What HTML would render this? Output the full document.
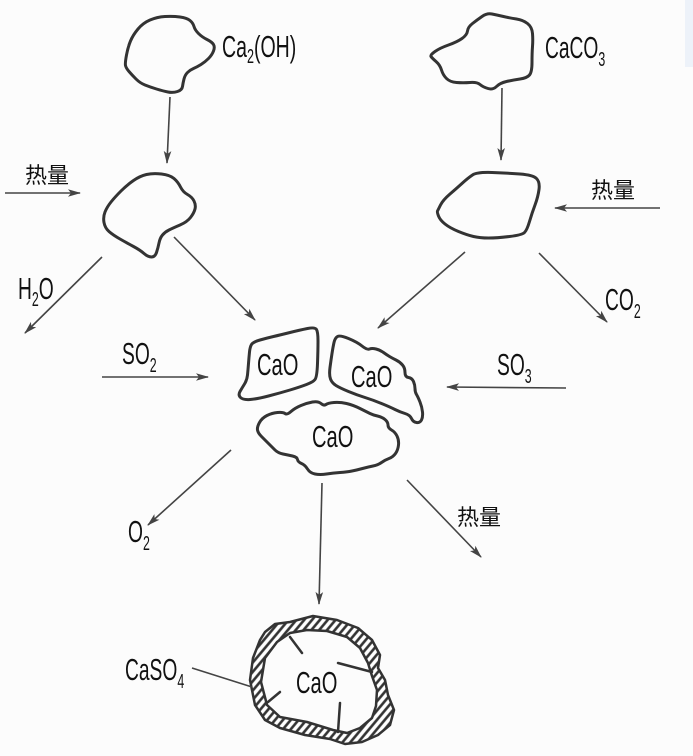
<!DOCTYPE html>
<html><head><meta charset="utf-8"><style>
html,body{margin:0;padding:0;background:#fcfcfc;}
svg{display:block;}
</style></head><body>
<svg id="s" width="693" height="756" viewBox="0 0 693 756" xmlns="http://www.w3.org/2000/svg">
<defs>
<marker id="a" markerWidth="14" markerHeight="10" refX="12" refY="5" orient="auto" markerUnits="userSpaceOnUse" overflow="visible">
<path d="M0,1.2 L13,5 L0,8.8 L3,5 Z" fill="#444"/>
</marker>
<pattern id="h" patternUnits="userSpaceOnUse" width="6" height="6" patternTransform="rotate(40)">
<rect width="6" height="6" fill="#fff"/>
<line x1="1.5" y1="0" x2="1.5" y2="6" stroke="#333" stroke-width="2.6"/>
</pattern>
</defs>
<rect x="0" y="0" width="693" height="756" fill="#fcfcfc"/>
<rect x="685" y="0" width="8" height="67" fill="#edf2f9"/>

<g fill="none" stroke="#333" stroke-width="3" stroke-linejoin="round" stroke-linecap="round">
<polygon class="sm" points="125,63 128,47 133,35 143,23 157,17 173,16 187,18 193,23 195,30 202,37 212,42 215,47 212,55 205,62 197,67 190,70 185,75 183,83 182,90 173,93 163,91 150,87 140,83 132,75 126,68"/>
<polygon class="sm" points="103,217 107,207 115,197 127,185 140,176 153,173 170,175 178,182 183,192 192,197 196,205 194,213 187,222 173,228 165,232 160,238 158,248 155,257 148,257 140,250 127,243 113,235 105,228"/>
<polygon class="sm" points="430,55 440,48 457,42 467,35 468,27 477,20 487,13 497,15 510,18 523,20 532,27 533,40 532,53 532,72 527,78 513,80 500,83 493,90 483,87 477,82 463,83 450,82 443,75 440,65 432,58"/>
<polygon class="sm" points="438,210 443,200 457,188 468,178 477,172 507,173 533,175 540,182 538,197 532,213 527,230 522,235 497,238 480,238 467,235 450,228 440,220 437,212"/>
<polygon class="sm" points="250,347 253,342 267,338 280,335 300,330 315,327 318,332 318,350 317,377 313,382 300,387 280,393 257,399 243,400 238,395 242,388 247,380 248,370 249,357"/>
<polygon class="sm" points="335,338 340,335 357,342 367,350 372,348 380,350 387,355 392,358 400,362 405,368 405,377 412,378 415,385 415,392 418,397 422,407 423,417 420,423 413,422 410,415 400,412 390,407 373,400 357,395 340,388 332,383 329,375 331,360 333,347"/>
<polygon class="sm" points="257,427 262,418 272,413 283,412 287,415 295,408 307,403 318,401 324,406 328,403 340,402 353,405 367,412 373,415 382,417 388,422 388,428 395,432 399,440 398,450 393,457 385,460 378,465 368,467 357,470 347,472 333,473 320,475 310,473 305,465 298,462 297,457 288,455 278,453 272,447 265,440 258,433"/>
</g>

<path fill="url(#h)" fill-rule="evenodd" stroke="#333" stroke-width="2.5" stroke-linejoin="round"
d="M265,632 L275,624 L290,622 L313,616 L337,620 L358,628 L372,640 L380,655 L378,668 L385,680 L388,695 L394,710 L390,725 L378,735 L362,742 L345,744 L330,739 L305,735 L280,728 L265,720 L255,705 L250,680 L253,658 L260,640 Z
M267,705 L261,682 L265,658 L277,642 L290,633 L307,630 L327,631 L347,637 L360,648 L368,663 L372,676 L377,690 L376,706 L372,718 L360,728 L347,733 L333,730 L307,722 L280,717 Z"/>
<g stroke="#333" stroke-width="2.5" stroke-linecap="round">
<line x1="290" y1="637" x2="302" y2="653"/>
<line x1="338" y1="663" x2="372" y2="672"/>
<line x1="280" y1="692" x2="268" y2="702"/>
<line x1="340" y1="703" x2="338" y2="732"/>
</g>

<g stroke="#444" stroke-width="1.6" fill="none" marker-end="url(#a)">
<line x1="170" y1="97" x2="167" y2="163"/>
<line x1="5" y1="193" x2="80" y2="193"/>
<line x1="102" y1="257" x2="25" y2="333"/>
<line x1="174" y1="237" x2="255" y2="320"/>
<line x1="102" y1="377" x2="208" y2="377"/>
<line x1="231" y1="450" x2="148" y2="525"/>
<line x1="502" y1="88" x2="501" y2="160"/>
<line x1="660" y1="208" x2="555" y2="208"/>
<line x1="465" y1="252" x2="378" y2="328"/>
<line x1="539" y1="253" x2="607" y2="322"/>
<line x1="566" y1="388" x2="447" y2="387"/>
<line x1="407" y1="480" x2="481" y2="557"/>
<line x1="322" y1="483" x2="319" y2="604"/>
</g>
<line x1="192" y1="668" x2="252" y2="687" stroke="#444" stroke-width="1.6"/>

<g font-family="'Liberation Sans', sans-serif" fill="#111" font-size="31">
<text transform="translate(222,57) scale(0.63,1)">Ca<tspan font-size="20" dy="6">2</tspan><tspan dy="-6">(OH)</tspan></text>
<text transform="translate(545,58) scale(0.62,1)">CaCO<tspan font-size="20" dy="8">3</tspan></text>
<text transform="translate(18,299) scale(0.62,1)">H<tspan font-size="20" dy="7">2</tspan><tspan dy="-7">O</tspan></text>
<text transform="translate(122,364) scale(0.62,1)">SO<tspan font-size="20" dy="8">2</tspan></text>
<text transform="translate(128,542) scale(0.62,1)">O<tspan font-size="20" dy="8">2</tspan></text>
<text transform="translate(605,310) scale(0.62,1)">CO<tspan font-size="20" dy="8">2</tspan></text>
<text transform="translate(497,375) scale(0.62,1)">SO<tspan font-size="20" dy="8">3</tspan></text>
<text transform="translate(257,375) scale(0.65,1)">CaO</text>
<text transform="translate(351,387) scale(0.65,1)">CaO</text>
<text transform="translate(312,447) scale(0.65,1)">CaO</text>
<text transform="translate(296,693) scale(0.65,1)">CaO</text>
<text transform="translate(125,680) scale(0.62,1)">CaSO<tspan font-size="20" dy="8">4</tspan></text>
</g>
<g font-family="'Liberation Sans', 'Noto Sans CJK SC', sans-serif" fill="#111" font-size="22">
<text x="25" y="183">热量</text>
<text x="591" y="198">热量</text>
<text x="457" y="525">热量</text>
</g>
</svg>
<script>
(function(){
  var ns="http://www.w3.org/2000/svg";
  var polys=document.querySelectorAll("polygon.sm");
  for(var i=0;i<polys.length;i++){
    var p=polys[i];
    var pts=p.getAttribute("points").trim().split(/\s+/).map(function(s){var a=s.split(",");return [+a[0],+a[1]];});
    var n=pts.length;
    function mid(a,b){return [(a[0]+b[0])/2,(a[1]+b[1])/2];}
    var m0=mid(pts[n-1],pts[0]);
    var d="M"+m0[0]+","+m0[1];
    for(var k=0;k<n;k++){
      var c=pts[k], m=mid(pts[k],pts[(k+1)%n]);
      d+=" Q"+c[0]+","+c[1]+" "+m[0]+","+m[1];
    }
    d+=" Z";
    var path=document.createElementNS(ns,"path");
    path.setAttribute("d",d);
    p.parentNode.replaceChild(path,p);
  }
})();
</script>
</body></html>
